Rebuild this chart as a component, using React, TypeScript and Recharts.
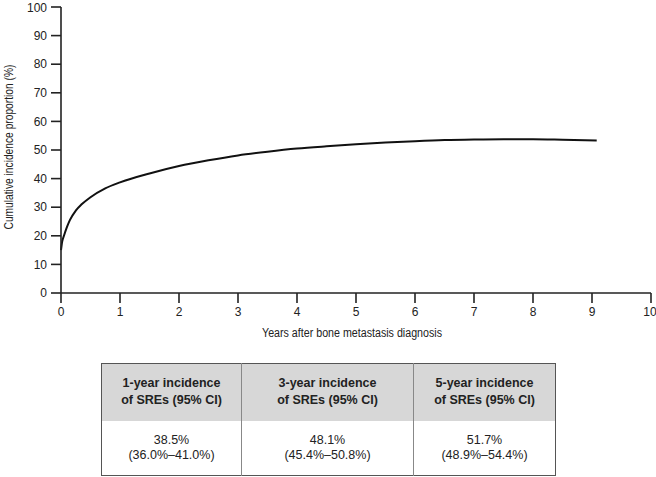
import { LineChart, Line, XAxis, YAxis, Label } from "recharts";

const years = [0, 0.02, 0.05, 0.1, 0.15, 0.25, 0.35, 0.5, 0.75, 1, 1.5, 2, 2.5, 3, 3.5, 4, 4.5, 5, 5.5, 6, 6.5, 7, 7.5, 8, 8.5, 9.08];
const incidence = [15, 18, 20, 23, 25.5, 28.8, 31, 33.5, 36.6, 38.7, 41.8, 44.4, 46.4, 48.1, 49.4, 50.5, 51.3, 52.0, 52.6, 53.1, 53.5, 53.7, 53.8, 53.8, 53.6, 53.3];

const xTicks = [0, 1, 2, 3, 4, 5, 6, 7, 8, 9, 10];
const yTicks = [0, 10, 20, 30, 40, 50, 60, 70, 80, 90, 100];

const tableHeaders = ["1-year incidence", "3-year incidence", "5-year incidence"];
const tableValues = ["38.5%", "48.1%", "51.7%"];
const tableCIs = ["(36.0%\u201341.0%)", "(45.4%\u201350.8%)", "(48.9%\u201354.4%)"];
const colWidths = [139, 171, 141];

const data = years.map((x, i) => ({ x, y: incidence[i] }));

const FONT = '"Liberation Sans", Arial, sans-serif';
const tickStyle = { fontSize: 12, fill: "#222", fontFamily: FONT };

export default function App() {
  return (
    <div style={{ position: "absolute", left: 0, top: 0, width: 656, height: 477, background: "#fff" }}>
      <LineChart width={656} height={345} data={data} margin={{ top: 7, right: 5, bottom: 12, left: 0 }}>
        <XAxis
          dataKey="x"
          type="number"
          domain={[0, 10]}
          ticks={xTicks}
          tickSize={10}
          tickMargin={4}
          height={40}
          tick={tickStyle}
          axisLine={{ stroke: "#222", strokeWidth: 1.6 }}
          tickLine={{ stroke: "#222", strokeWidth: 1.6 }}
        >
          <Label
            content={() => (
              <text
                x={352}
                y={337}
                textAnchor="middle"
                fontSize={12}
                fill="#222"
                fontFamily={FONT}
                textLength={180}
                lengthAdjust="spacingAndGlyphs"
              >
                Years after bone metastasis diagnosis
              </text>
            )}
          />
        </XAxis>
        <YAxis
          type="number"
          domain={[0, 100]}
          ticks={yTicks}
          width={61}
          tickSize={10}
          tickMargin={4}
          tick={tickStyle}
          axisLine={{ stroke: "#222", strokeWidth: 1.6 }}
          tickLine={{ stroke: "#222", strokeWidth: 1.6 }}
        >
          <Label
            content={() => (
              <text
                transform="translate(13,147) rotate(-90)"
                textAnchor="middle"
                fontSize={12}
                fill="#222"
                fontFamily={FONT}
                textLength={165}
                lengthAdjust="spacingAndGlyphs"
              >
                Cumulative incidence proportion (%)
              </text>
            )}
          />
        </YAxis>
        <Line type="monotone" dataKey="y" stroke="#111" strokeWidth={2} dot={false} isAnimationActive={false} />
      </LineChart>
      <table
        style={{
          position: "absolute",
          left: 101,
          top: 363,
          borderCollapse: "collapse",
          fontFamily: FONT,
          fontSize: 12.5,
          color: "#222",
          border: "1.5px solid #555",
        }}
      >
        <tbody>
          <tr style={{ background: "#d7d7d7", height: 57 }}>
            {tableHeaders.map((h, i) => (
              <td
                key={h}
                style={{
                  width: colWidths[i],
                  textAlign: "center",
                  fontWeight: "bold",
                  lineHeight: "17px",
                  padding: 0,
                  borderLeft: i > 0 ? "1px solid #888" : undefined,
                }}
              >
                {h}
                <br />
                of SREs (95% CI)
              </td>
            ))}
          </tr>
          <tr style={{ height: 55 }}>
            {tableValues.map((v, i) => (
              <td
                key={v}
                style={{
                  width: colWidths[i],
                  textAlign: "center",
                  lineHeight: "15px",
                  padding: 0,
                  borderLeft: i > 0 ? "1px solid #888" : undefined,
                }}
              >
                {v}
                <br />
                {tableCIs[i]}
              </td>
            ))}
          </tr>
        </tbody>
      </table>
    </div>
  );
}
